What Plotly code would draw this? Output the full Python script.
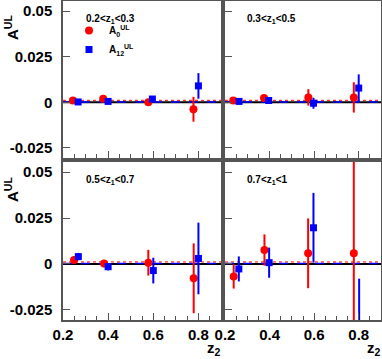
import plotly.graph_objects as go

# ---------------- data ----------------
panel_labels = ["0.2<z<sub>1</sub><0.3", "0.3<z<sub>1</sub><0.5",
                "0.5<z<sub>1</sub><0.7", "0.7<z<sub>1</sub><1"]

red_x = [[0.244, 0.378, 0.578, 0.778],
         [0.237, 0.375, 0.574, 0.778],
         [0.249, 0.382, 0.578, 0.779],
         [0.239, 0.377, 0.573, 0.778]]
red_y = [[0.0010, 0.0020, 0.0000, -0.0038],
         [0.0010, 0.0023, 0.0027, 0.0027],
         [0.0022, 0.0002, 0.0007, -0.0078],
         [-0.0068, 0.0076, 0.0058, 0.0058]]
red_err = [[0.0008, 0.0008, 0.0015, 0.0068],
           [0.0008, 0.0010, 0.0045, 0.0083],
           [0.0020, 0.0020, 0.0070, 0.0190],
           [0.0066, 0.0085, 0.0190, 0.0500]]

blue_x = [[0.267, 0.400, 0.596, 0.800],
          [0.263, 0.396, 0.597, 0.800],
          [0.268, 0.400, 0.600, 0.800],
          [0.262, 0.398, 0.597, 0.802]]
blue_y = [[0.0002, 0.0005, 0.0018, 0.0090],
          [0.0005, 0.0010, -0.0005, 0.0078],
          [0.0040, -0.0015, -0.0036, 0.0030],
          [-0.0027, 0.0007, 0.0197, -0.0450]]
blue_err = [[0.0007, 0.0007, 0.0015, 0.0070],
            [0.0010, 0.0010, 0.0030, 0.0075],
            [0.0020, 0.0020, 0.0070, 0.0195],
            [0.0068, 0.0082, 0.0190, 0.0370]]

red_ref = 0.0011
blue_ref = 0.0002

y_tickvals = [-0.025, 0, 0.025, 0.05]
y_ticktext = ["-0.025", "0", "0.025", "0.05"]
x_tickvals = [0.2, 0.4, 0.6, 0.8]
x_ticktext = ["0.2", "0.4", "0.6", "0.8"]

# ---------------- layout ----------------
FONT = "Liberation Sans"
RED = "#ff0000"
BLUE = "#0000ff"
FRAME = "#555555"

W, H = 382, 359
ml, mr, mt, mb = 63, 1, 1, 39
pw, ph = W - ml - mr, H - mt - mb

xdoms = [[0, 158 / pw], [162 / pw, 1]]
ydoms = [[(ph - 157) / ph, 1.0], [0.0, (ph - 161) / ph]]

fig = go.Figure()

for i in range(4):
    r, c = divmod(i, 2)
    n = i + 1
    xa = "x" if n == 1 else f"x{n}"
    ya = "y" if n == 1 else f"y{n}"
    fig.add_trace(go.Scatter(
        x=red_x[i], y=red_y[i], mode="markers", xaxis=xa, yaxis=ya,
        name="A<sub>0</sub><sup>UL</sup>", showlegend=(i == 0),
        marker=dict(symbol="circle", size=8, color=RED),
        error_y=dict(type="data", array=red_err[i], color=RED,
                     thickness=2, width=0)))
    fig.add_trace(go.Scatter(
        x=blue_x[i], y=blue_y[i], mode="markers", xaxis=xa, yaxis=ya,
        name="A<sub>12</sub><sup>UL</sup>", showlegend=(i == 0),
        marker=dict(symbol="square", size=7, color=BLUE),
        error_y=dict(type="data", array=blue_err[i], color=BLUE,
                     thickness=2, width=0)))

    axis_font = dict(family=FONT, size=15, color="black", weight="bold")
    xkey = "xaxis" if n == 1 else f"xaxis{n}"
    ykey = "yaxis" if n == 1 else f"yaxis{n}"
    fig.layout[xkey] = dict(
        domain=xdoms[c], range=[0.2, 0.9], anchor=ya, automargin=False,
        showline=True, mirror=True, linecolor=FRAME, linewidth=1.5,
        showgrid=False, zeroline=False,
        ticks="inside", ticklen=7, tickcolor=FRAME, tickwidth=1,
        tickvals=x_tickvals, ticktext=x_ticktext,
        showticklabels=(r == 1), tickfont=axis_font,
        minor=dict(dtick=0.05, tick0=0.2, ticks="inside", ticklen=4,
                   tickcolor=FRAME, tickwidth=1, showgrid=False),
    )
    fig.layout[ykey] = dict(
        domain=ydoms[r], range=[-0.0305, 0.0555], anchor=xa, automargin=False,
        showline=True, mirror=True, linecolor=FRAME, linewidth=1.5,
        showgrid=False, zeroline=False,
        ticks="inside", ticklen=7, tickcolor=FRAME, tickwidth=1,
        tickvals=y_tickvals, ticktext=y_ticktext,
        showticklabels=(c == 0), tickfont=axis_font,
        ticklabelstandoff=6,
    )

    # reference lines
    fig.add_shape(type="line", xref=f"{xa} domain", yref=ya, x0=0, x1=1,
                  y0=0, y1=0, line=dict(color="black", width=2), layer="below")
    fig.add_shape(type="line", xref=f"{xa} domain", yref=ya, x0=0, x1=1,
                  y0=red_ref, y1=red_ref,
                  line=dict(color=RED, width=1, dash="dot"), layer="below")
    fig.add_shape(type="line", xref=f"{xa} domain", yref=ya, x0=0, x1=1,
                  y0=blue_ref, y1=blue_ref,
                  line=dict(color=BLUE, width=1.5, dash="dash"), layer="below")

    # panel label
    fig.add_annotation(
        xref=f"{xa} domain", yref=f"{ya} domain", x=0.13, y=0.885,
        text=panel_labels[i], showarrow=False, xanchor="left", yanchor="middle",
        font=dict(family=FONT, size=10, color="black", weight="bold"))

# y-axis titles
for ypix in (28, 190):
    fig.add_annotation(
        xref="paper", yref="paper", x=(11 - ml) / pw, y=(320 - ypix) / ph,
        text="A<sup>UL</sup>", textangle=-90, showarrow=False,
        xanchor="center", yanchor="middle",
        font=dict(family=FONT, size=15, color="black", weight="bold"))

# x-axis titles
for xpix in (214, 374):
    fig.add_annotation(
        xref="paper", yref="paper", x=(xpix - ml) / pw, y=(320 - 348) / ph,
        text="z<sub>2</sub>", showarrow=False,
        xanchor="center", yanchor="middle",
        font=dict(family=FONT, size=15, color="black", weight="bold"))

fig.update_layout(
    width=W, height=H,
    margin=dict(l=ml, r=mr, t=mt, b=mb, autoexpand=False),
    paper_bgcolor="white", plot_bgcolor="white",
    showlegend=True,
    legend=dict(x=(69 - ml) / pw, y=(320 - 16) / ph, xanchor="left", yanchor="top",
                bgcolor="rgba(0,0,0,0)", borderwidth=0,
                font=dict(family=FONT, size=10, color="black", weight="bold"),
                itemwidth=30, tracegroupgap=0),
)

fig.write_html("out.html", config={"displayModeBar": False},
               post_script="document.body.style.margin='0px';document.body.style.overflow='hidden';")
